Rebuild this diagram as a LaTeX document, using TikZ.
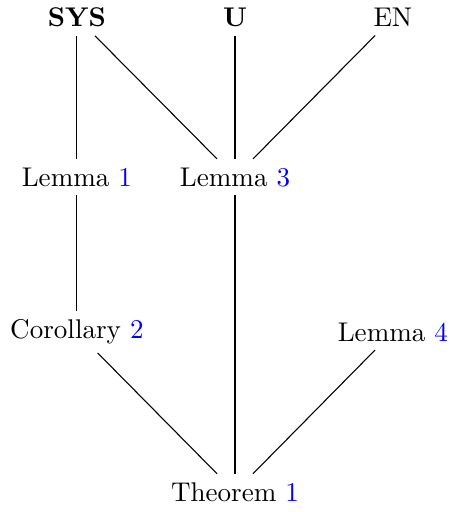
\documentclass[tikz,border=0pt]{standalone}
\usepackage{xcolor}
\begin{document}
\begin{tikzpicture}[x=1pt,y=1pt,
  lbl/.style={inner sep=3pt},
  edge/.style={draw,line width=0.4pt}]
\useasboundingbox (0,0) rectangle (166.2,189.1);
\node[lbl] (sys) at (28.4,182.6) {\textbf{SYS}};
\node[lbl] (u) at (86.8,182.6) {\textbf{U}};
\node[lbl] (en) at (145.1,182.6) {EN};
\node[lbl] (l1) at (28.4,123.7) {Lemma \textcolor{blue}{1}};
\node[lbl] (l3) at (86.8,123.7) {Lemma \textcolor{blue}{3}};
\node[lbl] (c2) at (28.4,66.5) {Corollary \textcolor{blue}{2}};
\node[lbl] (l4) at (145.1,66.5) {Lemma \textcolor{blue}{4}};
\node[lbl] (t1) at (86.8,7.4) {Theorem \textcolor{blue}{1}};
\draw[edge] (sys) -- (l1);
\draw[edge] (sys) -- (l3);
\draw[edge] (u) -- (l3);
\draw[edge] (en) -- (l3);
\draw[edge] (l1) -- (c2);
\draw[edge] (c2) -- (t1);
\draw[edge] (l3) -- (t1);
\draw[edge] (l4) -- (t1);
\end{tikzpicture}
\end{document}
